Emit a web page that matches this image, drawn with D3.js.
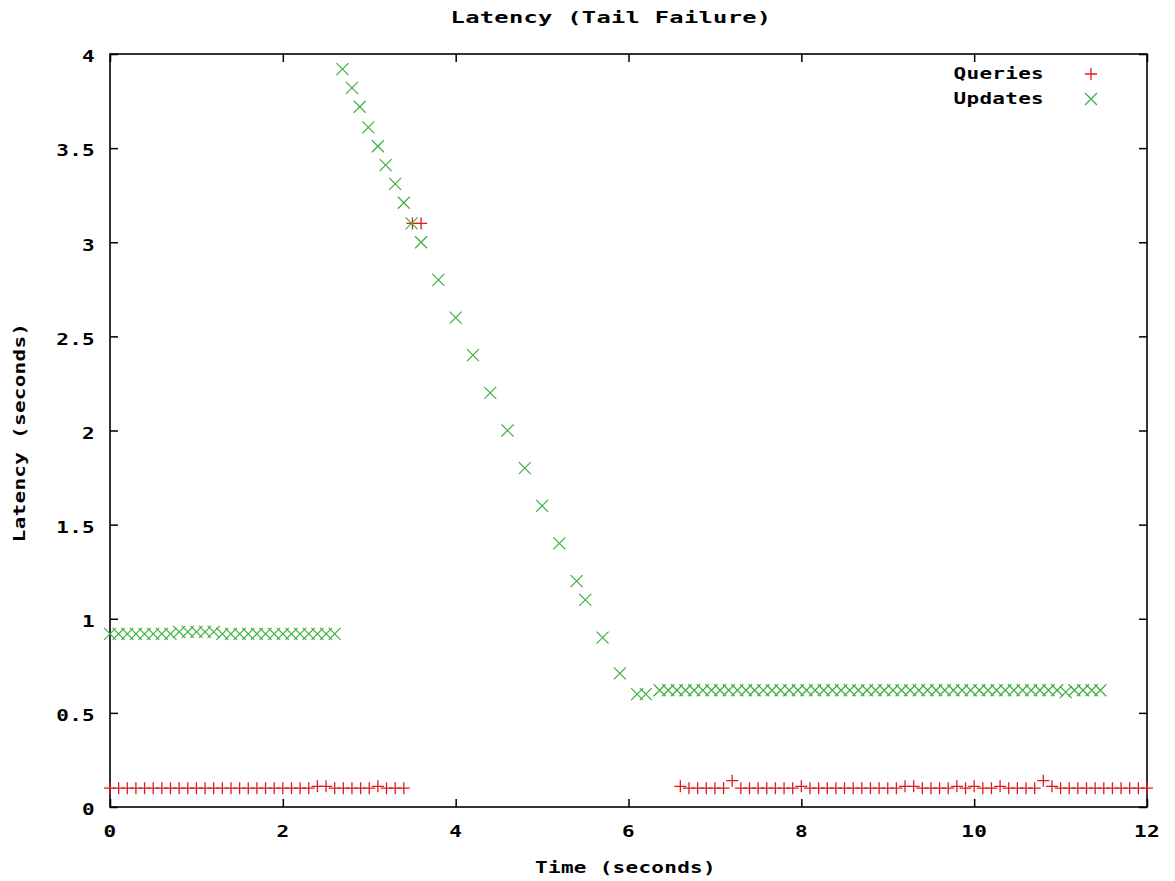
<!DOCTYPE html>
<html>
<head>
<meta charset="utf-8">
<script src="https://cdn.jsdelivr.net/npm/d3@7"></script>
<style>
  html, body { margin: 0; padding: 0; background: #fff; }
  svg { display: block; }
  text { font-family: "DejaVu Sans Mono", "Liberation Mono", monospace; font-weight: bold; font-size: 15px; fill: #000; letter-spacing: 0.2px; }
</style>
</head>
<body>
<svg id="chart" width="1175" height="881"></svg>
<script>
// Query latencies (seconds) by time (seconds)
const queryTimes = [
  0.0, 0.1, 0.2, 0.3, 0.4, 0.5, 0.6, 0.7, 0.8, 0.9, 1.0, 1.1, 1.2, 1.3, 1.4, 1.5, 1.6, 1.7,
  1.8, 1.9, 2.0, 2.1, 2.2, 2.3, 2.4, 2.5, 2.6, 2.7, 2.8, 2.9, 3.0, 3.1, 3.2, 3.3, 3.4,
  3.5, 3.6,
  6.6, 6.7, 6.8, 6.9, 7.0, 7.1, 7.2, 7.3, 7.4, 7.5, 7.6, 7.7, 7.8, 7.9, 8.0, 8.1, 8.2, 8.3,
  8.4, 8.5, 8.6, 8.7, 8.8, 8.9, 9.0, 9.1, 9.2, 9.3, 9.4, 9.5, 9.6, 9.7, 9.8, 9.9, 10.0,
  10.1, 10.2, 10.3, 10.4, 10.5, 10.6, 10.7, 10.8, 10.9, 11.0, 11.1, 11.2, 11.3, 11.4, 11.5,
  11.6, 11.7, 11.8, 11.9, 12.0
];
const queryLatency = [
  0.10, 0.10, 0.10, 0.10, 0.10, 0.10, 0.10, 0.10, 0.10, 0.10, 0.10, 0.10, 0.10, 0.10, 0.10, 0.10, 0.10, 0.10,
  0.10, 0.10, 0.10, 0.10, 0.10, 0.10, 0.11, 0.11, 0.10, 0.10, 0.10, 0.10, 0.10, 0.11, 0.10, 0.10, 0.10,
  3.10, 3.10,
  0.11, 0.10, 0.10, 0.10, 0.10, 0.10, 0.14, 0.10, 0.10, 0.10, 0.10, 0.10, 0.10, 0.10, 0.11, 0.10, 0.10, 0.10,
  0.10, 0.10, 0.10, 0.10, 0.10, 0.10, 0.10, 0.10, 0.11, 0.11, 0.10, 0.10, 0.10, 0.10, 0.11, 0.10, 0.11,
  0.10, 0.10, 0.11, 0.10, 0.10, 0.10, 0.10, 0.14, 0.11, 0.10, 0.10, 0.10, 0.10, 0.10, 0.10,
  0.10, 0.10, 0.10, 0.10, 0.10
];

// Update latencies (seconds) by time (seconds)
const updateTimes = [
  0.0, 0.1, 0.2, 0.3, 0.4, 0.5, 0.6, 0.7, 0.8, 0.9, 1.0, 1.1, 1.2, 1.3, 1.4, 1.5, 1.6, 1.7,
  1.8, 1.9, 2.0, 2.1, 2.2, 2.3, 2.4, 2.5, 2.6,
  2.69, 2.80, 2.89, 2.99, 3.10, 3.19, 3.30, 3.40, 3.49, 3.60,
  3.8, 4.0, 4.2, 4.4, 4.6, 4.8, 5.0, 5.2, 5.4, 5.5, 5.7, 5.9, 6.1, 6.2,
  6.36, 6.46, 6.56, 6.66, 6.76, 6.86, 6.96, 7.06, 7.16, 7.26, 7.36, 7.46, 7.56, 7.66, 7.76, 7.86, 7.96, 8.06,
  8.16, 8.26, 8.36, 8.46, 8.56, 8.66, 8.76, 8.86, 8.96, 9.06, 9.16, 9.26, 9.36, 9.46, 9.56, 9.66, 9.76, 9.86,
  9.96, 10.06, 10.16, 10.26, 10.36, 10.46, 10.56, 10.66, 10.76, 10.86, 10.96, 11.06, 11.16, 11.26, 11.36, 11.46
];
const updateLatency = [
  0.92, 0.92, 0.92, 0.92, 0.92, 0.92, 0.92, 0.92, 0.93, 0.93, 0.93, 0.93, 0.93, 0.92, 0.92, 0.92, 0.92, 0.92,
  0.92, 0.92, 0.92, 0.92, 0.92, 0.92, 0.92, 0.92, 0.92,
  3.92, 3.82, 3.72, 3.61, 3.51, 3.41, 3.31, 3.21, 3.10, 3.00,
  2.80, 2.60, 2.40, 2.20, 2.00, 1.80, 1.60, 1.40, 1.20, 1.10, 0.90, 0.71, 0.60, 0.60,
  0.62, 0.62, 0.62, 0.62, 0.62, 0.62, 0.62, 0.62, 0.62, 0.62, 0.62, 0.62, 0.62, 0.62, 0.62, 0.62, 0.62, 0.62,
  0.62, 0.62, 0.62, 0.62, 0.62, 0.62, 0.62, 0.62, 0.62, 0.62, 0.62, 0.62, 0.62, 0.62, 0.62, 0.62, 0.62, 0.62,
  0.62, 0.62, 0.62, 0.62, 0.62, 0.62, 0.62, 0.62, 0.62, 0.62, 0.62, 0.61, 0.62, 0.62, 0.62, 0.62
];

const xTicks = [0, 2, 4, 6, 8, 10, 12];
const yTicks = [0, 0.5, 1, 1.5, 2, 2.5, 3, 3.5, 4];
const yTickLabels = ["0", "0.5", "1", "1.5", "2", "2.5", "3", "3.5", "4"];

const chartTitle = "Latency (Tail Failure)";
const xTitle = "Time (seconds)";
const yTitle = "Latency (seconds)";
const seriesNames = ["Queries", "Updates"];

const colQuery = "#e01a1a";
const colUpdate = "#3fae3f";

const svg = d3.select("#chart");
const plotLeft = 110, plotRight = 1147, plotTop = 54, plotBottom = 807;
const STRETCH = 1.4;

const x = d3.scaleLinear().domain([0, 12]).range([plotLeft, plotRight]);
const y = d3.scaleLinear().domain([0, 4]).range([plotBottom, plotTop]);

// Wide bitmap-style lettering: horizontally stretched text
function label(g, px, py, str, anchor, rotate, stretch) {
  const s = stretch || STRETCH;
  return g.append("text")
    .attr("text-anchor", anchor)
    .attr("dominant-baseline", "central")
    .attr("transform", `translate(${px},${py})` + (rotate ? ` rotate(${rotate})` : "") + ` scale(${s},1)`)
    .text(str);
}

// Axes with inward ticks, mirrored on the opposite sides
const tickLen = 8;
const gx = svg.append("g").attr("transform", `translate(0,${plotBottom})`)
  .call(d3.axisBottom(x).tickValues(xTicks).tickSize(-tickLen).tickFormat(""));
const gxTop = svg.append("g").attr("transform", `translate(0,${plotTop})`)
  .call(d3.axisTop(x).tickValues(xTicks).tickSize(-tickLen).tickFormat(""));
const gy = svg.append("g").attr("transform", `translate(${plotLeft},0)`)
  .call(d3.axisLeft(y).tickValues(yTicks).tickSize(-tickLen).tickFormat(""));
const gyRight = svg.append("g").attr("transform", `translate(${plotRight},0)`)
  .call(d3.axisRight(y).tickValues(yTicks).tickSize(-tickLen).tickFormat(""));

[gx, gxTop, gy, gyRight].forEach(g => {
  g.select(".domain").remove();
  g.selectAll(".tick line").attr("stroke", "#000").attr("stroke-width", 1.5);
});

// Frame
svg.append("rect")
  .attr("x", plotLeft).attr("y", plotTop)
  .attr("width", plotRight - plotLeft).attr("height", plotBottom - plotTop)
  .attr("fill", "none").attr("stroke", "#000").attr("stroke-width", 1.6);

// Tick labels
const labels = svg.append("g");
xTicks.forEach(v => label(labels, x(v), plotBottom + 25, String(v), "middle"));
yTicks.forEach((v, i) => label(labels, plotLeft - 15, y(v) + 3, yTickLabels[i], "end"));

// Titles
label(svg, 611, 18, chartTitle, "middle", 0, 1.58);
label(svg, (plotLeft + plotRight) / 2 - 3, 868, xTitle, "middle");
label(svg, 20, (plotTop + plotBottom) / 2 + 2, yTitle, "middle", -90);

// Marker shapes
const plusPath = "M-6,0H6M0,-6V6";
const crossPath = "M-6,-6L6,6M-6,6L6,-6";

const queries = queryTimes.map((t, i) => ({ t, v: queryLatency[i] }));
const updates = updateTimes.map((t, i) => ({ t, v: updateLatency[i] }));

svg.append("g").selectAll("path").data(queries).join("path")
  .attr("d", plusPath)
  .attr("transform", d => `translate(${x(d.t)},${y(d.v)})`)
  .attr("fill", "none").attr("stroke", colQuery).attr("stroke-width", 1.3);

svg.append("g").selectAll("path").data(updates).join("path")
  .attr("d", crossPath)
  .attr("transform", d => `translate(${x(d.t)},${y(d.v)})`)
  .attr("fill", "none").attr("stroke", colUpdate).attr("stroke-width", 1.2);

// Legend
const legend = svg.append("g");
const legendRows = [
  { name: seriesNames[0], path: plusPath, color: colQuery },
  { name: seriesNames[1], path: crossPath, color: colUpdate }
];
legendRows.forEach((r, i) => {
  const ly = 74 + i * 25;
  label(legend, 1044, ly, r.name, "end");
  legend.append("path")
    .attr("d", r.path)
    .attr("transform", `translate(1091,${ly})`)
    .attr("fill", "none").attr("stroke", r.color).attr("stroke-width", 1.3);
});
</script>
</body>
</html>
